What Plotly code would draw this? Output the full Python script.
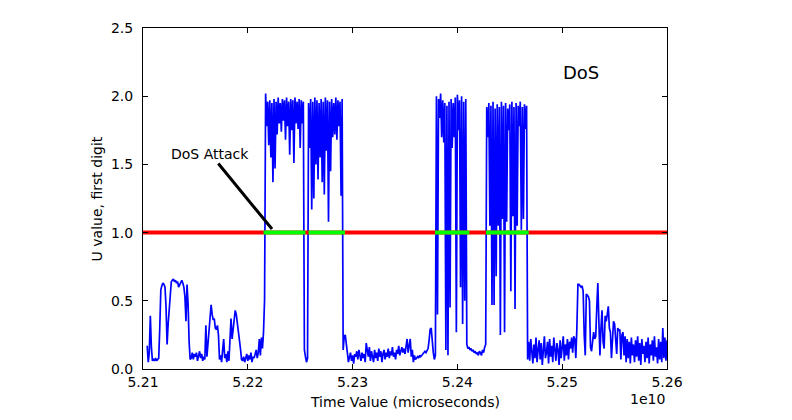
import plotly.graph_objects as go

# ---------------- data ----------------
# Sampling: first sample time and interval (microseconds)
T0 = 5.2104e10
DT = 1.0e6

# U value, first digit (segment by segment)
u_pre = [0.17, 0.05, 0.12, 0.39, 0.16, 0.06, 0.07, 0.06, 0.08, 0.06,
         0.07, 0.08, 0.30, 0.58, 0.61, 0.63, 0.62, 0.60, 0.45, 0.18,
         0.33, 0.45, 0.56, 0.64, 0.65, 0.66, 0.64, 0.65, 0.63, 0.64,
         0.60, 0.62, 0.64, 0.65, 0.63, 0.60, 0.53, 0.35, 0.62, 0.48,
         0.20, 0.07, 0.08, 0.12, 0.07, 0.11, 0.09, 0.12, 0.06, 0.10,
         0.13, 0.08, 0.11, 0.06, 0.09, 0.07, 0.32, 0.09, 0.18, 0.32,
         0.40, 0.47, 0.40, 0.36, 0.37, 0.30, 0.29, 0.32, 0.25, 0.07,
         0.10, 0.05, 0.14, 0.22, 0.08, 0.11, 0.05, 0.13, 0.06, 0.25,
         0.37, 0.22, 0.30, 0.38, 0.43, 0.40, 0.34, 0.29, 0.24, 0.15,
         0.07, 0.06, 0.09, 0.05, 0.08, 0.11, 0.06, 0.10, 0.07, 0.12,
         0.05, 0.09, 0.08, 0.11, 0.14, 0.08, 0.12, 0.22, 0.10, 0.23,
         0.15, 0.27, 0.51]
u_attack1 = [2.02, 1.78, 1.96, 1.64, 1.97, 1.55, 1.95, 1.37, 1.98, 1.47,
             1.96, 1.72, 1.99, 1.80, 1.95, 1.74, 1.98, 1.82, 1.97, 1.68,
             1.99, 1.78, 1.96, 1.57, 1.98, 1.75, 1.97, 1.51, 1.99, 1.80,
             1.96, 1.76, 1.98, 1.62, 1.97, 1.80, 1.96]
u_gap1 = [0.14, 0.09, 0.05, 0.08]
u_attack2 = [1.95, 1.62, 1.98, 1.17, 1.96, 1.25, 1.99, 1.50, 1.97, 1.39,
             1.95, 1.55, 1.98, 1.37, 1.96, 1.28, 1.99, 1.60, 1.97, 1.08,
             1.96, 1.45, 1.98, 1.70, 1.95, 1.72, 1.99, 1.68, 1.97, 1.78,
             1.96, 1.27, 1.98]
u_mid = [0.14, 0.24, 0.25, 0.20, 0.12, 0.05, 0.08, 0.12, 0.06, 0.10,
         0.04, 0.11, 0.09, 0.13, 0.07, 0.14, 0.10, 0.06, 0.12, 0.08,
         0.11, 0.05, 0.19, 0.12, 0.09, 0.16, 0.06, 0.13, 0.10, 0.05,
         0.14, 0.08, 0.12, 0.06, 0.15, 0.09, 0.13, 0.05, 0.11, 0.14,
         0.07, 0.12, 0.09, 0.15, 0.08, 0.13, 0.10, 0.16, 0.09, 0.12,
         0.07, 0.14, 0.11, 0.17, 0.10, 0.13, 0.16, 0.12, 0.15, 0.11,
         0.17, 0.22, 0.12, 0.18, 0.22, 0.09, 0.14, 0.05, 0.10, 0.07,
         0.08, 0.09, 0.08, 0.10, 0.09, 0.10, 0.11, 0.12, 0.13, 0.12,
         0.14, 0.15, 0.21, 0.29, 0.30, 0.19, 0.12, 0.07, 0.10]
u_attack3 = [2.00, 0.40, 1.98, 1.84, 2.02, 1.70, 1.97, 1.66, 1.95, 0.14,
             1.93, 0.10, 1.96, 0.45, 1.98, 1.62, 1.95, 1.70, 1.99, 0.27,
             2.01, 1.75, 1.97, 0.60, 2.00, 0.33, 1.96, 0.50, 1.98]
u_gap3 = [0.18, 0.15, 0.16, 0.14, 0.15, 0.13, 0.14, 0.12, 0.13, 0.11,
          0.12, 0.10, 0.13, 0.12, 0.10, 0.14, 0.12, 0.16, 0.18]
u_attack4 = [1.92, 1.70, 1.95, 1.05, 1.93, 0.47, 1.96, 0.47, 1.91, 0.68,
             1.94, 1.05, 1.92, 0.25, 1.96, 1.10, 1.93, 0.27, 1.95, 1.08,
             1.91, 1.75, 1.94, 0.57, 1.96, 1.12, 1.92, 0.44, 1.95, 1.05,
             1.93, 1.78, 1.96, 1.02, 1.92, 1.10, 1.94, 1.76, 1.93]
u_post = [0.07,
          0.20, 0.06, 0.22, 0.10, 0.04, 0.18, 0.08, 0.23, 0.05, 0.14,
          0.21, 0.07, 0.19, 0.03, 0.16, 0.24, 0.08, 0.12, 0.20, 0.04,
          0.22, 0.09, 0.17, 0.05, 0.23, 0.11, 0.06, 0.19, 0.14, 0.03,
          0.21, 0.08, 0.16, 0.24, 0.06, 0.18, 0.10, 0.22, 0.07, 0.20,
          0.15, 0.23, 0.12,
          0.24, 0.22, 0.08, 0.30, 0.62, 0.62, 0.61, 0.60, 0.61, 0.57,
          0.25, 0.10, 0.55, 0.54, 0.53, 0.50, 0.16, 0.13, 0.20, 0.27,
          0.22, 0.24, 0.45, 0.63, 0.35, 0.10, 0.30, 0.43, 0.20, 0.15,
          0.39, 0.35, 0.40, 0.46, 0.30, 0.27, 0.08, 0.25, 0.35, 0.33,
          0.24, 0.11, 0.30, 0.28, 0.29, 0.07, 0.25, 0.27, 0.10, 0.24,
          0.05,
          0.22, 0.08, 0.20, 0.04, 0.23, 0.10, 0.18, 0.05, 0.21, 0.09,
          0.24, 0.06, 0.19, 0.03, 0.22, 0.11, 0.17, 0.05, 0.20, 0.08,
          0.23, 0.04, 0.18, 0.10, 0.21, 0.06, 0.24, 0.09, 0.16, 0.04,
          0.22, 0.07, 0.20, 0.05, 0.30, 0.08, 0.23, 0.06, 0.21]

# threshold line and detected attack windows (microseconds)
threshold = 1.0
x_range = [5.21e10, 5.26e10]
attack_start = [5.2215e10, 5.2258e10, 5.23786e10, 5.24273e10]
attack_end = [5.22551e10, 5.22927e10, 5.24114e10, 5.24680e10]

x_tickvals = [5.21e10, 5.22e10, 5.23e10, 5.24e10, 5.25e10, 5.26e10]
x_ticktext = ["5.21", "5.22", "5.23", "5.24", "5.25", "5.26"]
y_tickvals = [0.0, 0.5, 1.0, 1.5, 2.0, 2.5]
y_ticktext = ["0.0", "0.5", "1.0", "1.5", "2.0", "2.5"]

# ---------------- build ----------------
u = u_pre + u_attack1 + u_gap1 + u_attack2 + u_mid + u_attack3 + u_gap3 + u_attack4 + u_post
t = [T0 + i * DT for i in range(len(u))]

green_x, green_y = [], []
for s, e in zip(attack_start, attack_end):
    green_x += [s, e, None]
    green_y += [threshold, threshold, None]

FONT = "DejaVu Sans"
fig = go.Figure()
fig.add_trace(go.Scatter(x=t, y=u, mode="lines",
                         line=dict(color="#0000ff", width=1.7),
                         showlegend=False, hoverinfo="skip"))
fig.add_trace(go.Scatter(x=x_range, y=[threshold, threshold], mode="lines",
                         line=dict(color="#ff0000", width=4),
                         showlegend=False, hoverinfo="skip"))
fig.add_trace(go.Scatter(x=green_x, y=green_y, mode="lines",
                         line=dict(color="#00ff00", width=4),
                         showlegend=False, hoverinfo="skip"))

fig.update_layout(
    width=792, height=420,
    margin=dict(l=143, r=125, t=28, b=51),
    paper_bgcolor="white", plot_bgcolor="white",
    font=dict(family=FONT, size=14, color="black"),
    showlegend=False,
)
fig.update_xaxes(range=x_range, tickvals=x_tickvals, ticktext=x_ticktext,
                 showline=True, linecolor="black", linewidth=1, mirror="ticks",
                 ticks="inside", ticklen=5, tickcolor="black",
                 showgrid=False, zeroline=False, tickfont=dict(size=14))
fig.update_yaxes(range=[0, 2.5], tickvals=y_tickvals, ticktext=y_ticktext,
                 showline=True, linecolor="black", linewidth=1, mirror="ticks",
                 ticks="inside", ticklen=5, tickcolor="black",
                 showgrid=False, zeroline=False, tickfont=dict(size=14),
                 ticklabelstandoff=6)

# axis titles and offset label
fig.add_annotation(text="Time Value (microseconds)", xref="paper", yref="paper",
                   x=0.5, y=-0.097, xanchor="center", yanchor="middle",
                   showarrow=False, font=dict(size=14))
fig.add_annotation(text="1e10", xref="paper", yref="paper",
                   x=1.0, y=-0.088, xanchor="right", yanchor="middle",
                   showarrow=False, font=dict(size=14))
fig.add_annotation(text="U value, first digit", xref="paper", yref="paper",
                   x=-0.088, y=0.5, xanchor="center", yanchor="middle",
                   textangle=-90, showarrow=False, font=dict(size=14))

# in-plot labels
fig.add_annotation(text="DoS", x=5.25175e10, y=2.177, xref="x", yref="y",
                   showarrow=False, font=dict(size=18))
fig.add_annotation(text="DoS Attack", x=5.22231e10, y=1.026, xref="x", yref="y",
                   ax=5.21644e10, ay=1.576, axref="x", ayref="y",
                   showarrow=True, arrowhead=0, arrowwidth=3, arrowcolor="black",
                   font=dict(size=14))

fig.write_html("out.html")
